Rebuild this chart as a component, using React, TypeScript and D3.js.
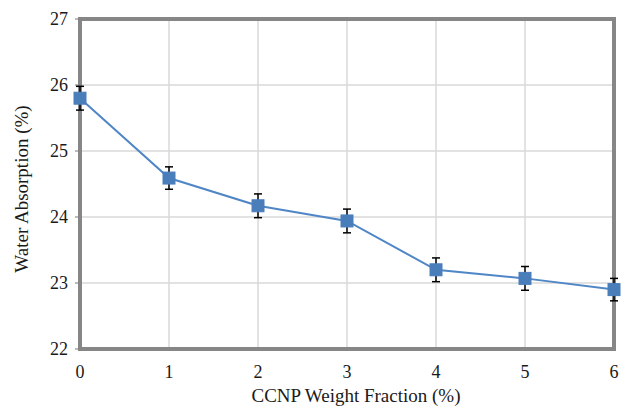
import React, { useEffect, useRef } from 'react';
import * as d3 from 'd3';

// CCNP weight fraction (%) and water absorption (%)
const fractions = [0, 1, 2, 3, 4, 5, 6];
const absorption = [25.8, 24.59, 24.17, 23.94, 23.2, 23.07, 22.9];
const errors = [0.18, 0.17, 0.18, 0.18, 0.18, 0.18, 0.17];
const yTicks = [22, 23, 24, 25, 26, 27];
const xTicks = [0, 1, 2, 3, 4, 5, 6];

const App = () => {
  const svgRef = useRef<SVGSVGElement | null>(null);

  useEffect(() => {
    if (!svgRef.current) return;
    const svg = d3.select(svgRef.current);
    svg.selectAll('*').remove();

    const width = 625;
    const height = 406;
    const margin = { top: 19, right: 11, bottom: 57, left: 80 };
    const font = 'Liberation Serif';

    const x = d3.scaleLinear().domain([0, 6]).range([margin.left, width - margin.right]);
    const y = d3.scaleLinear().domain([22, 27]).range([height - margin.bottom, margin.top]);

    // Gridlines
    svg.append('g')
      .selectAll('line')
      .data(xTicks.slice(1, -1))
      .enter().append('line')
      .attr('x1', d => x(d)).attr('x2', d => x(d))
      .attr('y1', y(27)).attr('y2', y(22))
      .attr('stroke', '#d9d9d9').attr('stroke-width', 1.5);

    svg.append('g')
      .selectAll('line')
      .data(yTicks.slice(1, -1))
      .enter().append('line')
      .attr('x1', x(0)).attr('x2', x(6))
      .attr('y1', d => y(d)).attr('y2', d => y(d))
      .attr('stroke', '#d9d9d9').attr('stroke-width', 1.5);

    // Left tick marks
    svg.append('g')
      .selectAll('line')
      .data(yTicks)
      .enter().append('line')
      .attr('x1', x(0) - 5).attr('x2', x(0))
      .attr('y1', d => y(d)).attr('y2', d => y(d))
      .attr('stroke', '#a6a6a6').attr('stroke-width', 1.5);

    // Plot border
    svg.append('rect')
      .attr('x', x(0)).attr('y', y(27))
      .attr('width', x(6) - x(0)).attr('height', y(22) - y(27))
      .attr('fill', 'none')
      .attr('stroke', '#868686')
      .attr('stroke-width', 4);

    const textStyle = (sel: any, size: number) => sel
      .attr('font-family', font)
      .attr('font-size', size)
      .attr('fill', '#1a1a1a');

    // Tick labels
    svg.append('g')
      .selectAll('text')
      .data(yTicks)
      .enter().append('text')
      .attr('x', x(0) - 12)
      .attr('y', d => y(d))
      .attr('dy', '0.35em')
      .attr('text-anchor', 'end')
      .call(textStyle, 18)
      .text(d => d);

    svg.append('g')
      .selectAll('text')
      .data(xTicks)
      .enter().append('text')
      .attr('x', d => x(d))
      .attr('y', y(22) + 29)
      .attr('text-anchor', 'middle')
      .call(textStyle, 18)
      .text(d => d);

    // Axis titles
    svg.append('text')
      .attr('x', 356)
      .attr('y', 402)
      .attr('text-anchor', 'middle')
      .call(textStyle, 19)
      .text('CCNP Weight Fraction (%)');

    svg.append('text')
      .attr('transform', `translate(28, 189) rotate(-90)`)
      .attr('text-anchor', 'middle')
      .call(textStyle, 19)
      .text('Water Absorption (%)');

    const points = fractions.map((f, i) => ({ f, v: absorption[i], e: errors[i] }));

    // Line
    const line = d3.line<{ f: number; v: number }>()
      .x(d => x(d.f))
      .y(d => y(d.v));

    svg.append('path')
      .datum(points)
      .attr('d', line)
      .attr('fill', 'none')
      .attr('stroke', '#4f86c6')
      .attr('stroke-width', 2);

    // Error bars
    const eb = svg.append('g').attr('stroke', '#000').attr('stroke-width', 1.5);
    points.forEach(p => {
      eb.append('line')
        .attr('x1', x(p.f)).attr('x2', x(p.f))
        .attr('y1', y(p.v + p.e)).attr('y2', y(p.v - p.e));
      [p.v + p.e, p.v - p.e].forEach(v => {
        eb.append('line')
          .attr('x1', x(p.f) - 4).attr('x2', x(p.f) + 4)
          .attr('y1', y(v)).attr('y2', y(v));
      });
    });

    // Markers
    svg.append('g')
      .selectAll('rect')
      .data(points)
      .enter().append('rect')
      .attr('x', d => x(d.f) - 6)
      .attr('y', d => y(d.v) - 6)
      .attr('width', 12)
      .attr('height', 12)
      .attr('fill', '#4a7ebb')
      .attr('stroke', '#4a7ebb')
      .attr('stroke-width', 1);
  }, []);

  return (
    <svg
      ref={svgRef}
      width={625}
      height={406}
      style={{ position: 'absolute', left: 0, top: 0, background: '#fff' }}
    />
  );
};

export default App;
